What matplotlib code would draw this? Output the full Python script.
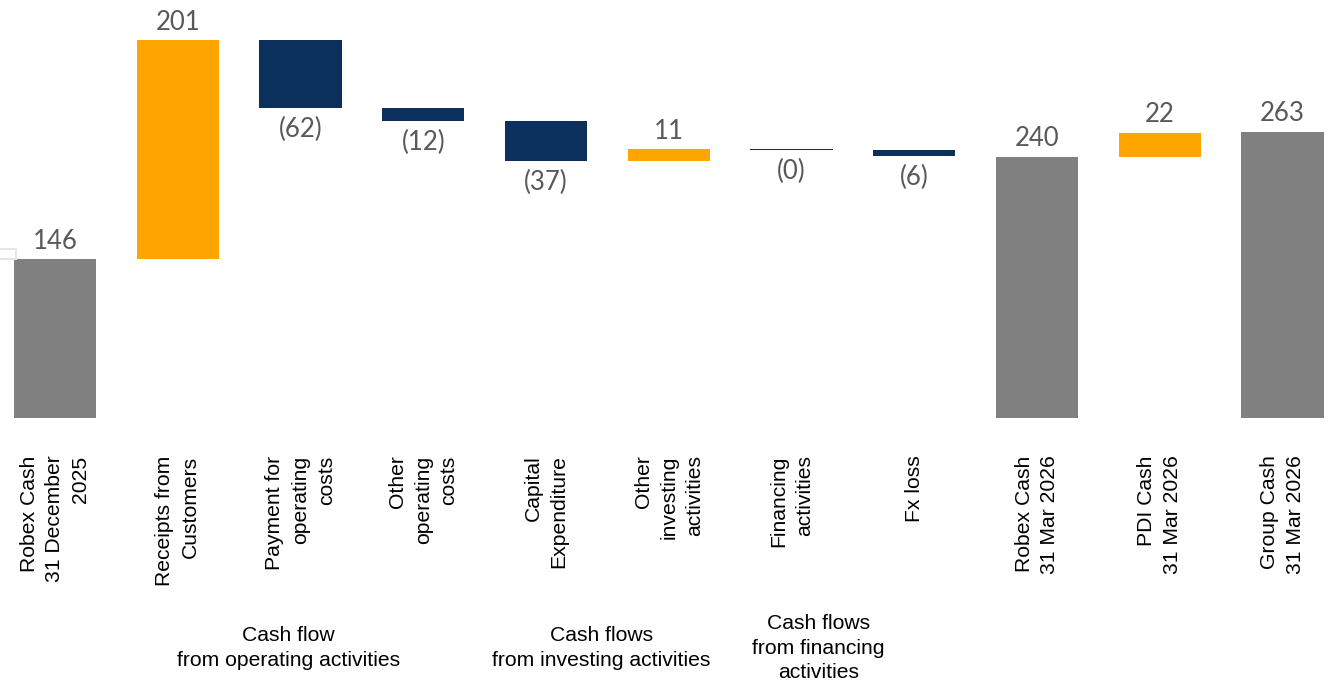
import matplotlib.pyplot as plt
from matplotlib.patches import Rectangle

# data
categories = ["Robex Cash\n31 December\n2025", "Receipts from\nCustomers",
              "Payment for\noperating\ncosts", "Other\noperating\ncosts",
              "Capital\nExpenditure", "Other\ninvesting\nactivities",
              "Financing\nactivities", "Fx loss", "Robex Cash\n31 Mar 2026",
              "PDI Cash\n31 Mar 2026", "Group Cash\n31 Mar 2026"]
values = [146, 201, -62, -12, -37, 11, -0.4, -6, 240, 22, 263]
is_total = [True, False, False, False, False, False, False, False, True, False, True]

groups = ["Cash flow\nfrom operating activities",
          "Cash flows\nfrom investing activities",
          "Cash flows\nfrom financing\nactivities"]
group_x = [1.9, 4.45, 6.22]

ORANGE = "#FFA500"
NAVY = "#0B305B"
GREY = "#808080"
LABEL_GREY = "#595959"

fig = plt.figure(figsize=(13.44, 6.82), dpi=100)
ax = fig.add_axes([0, 1 - 418 / 682, 1, 418 / 682])

bottoms, heights, colors = [], [], []
running = 0
for v, tot in zip(values, is_total):
    if tot:
        bottoms.append(0)
        heights.append(v)
        colors.append(GREY)
        running = v
    else:
        bottoms.append(running if v >= 0 else running + v)
        heights.append(abs(v))
        colors.append(ORANGE if v >= 0 else NAVY)
        running += v

x = range(len(values))
ax.bar(x, heights, bottom=bottoms, width=0.67, color=colors, linewidth=0)

# value labels
for i, v in enumerate(values):
    if v >= 0:
        txt = f"{v:.0f}"
        ax.annotate(txt, (i, bottoms[i] + heights[i]), xytext=(0, 4),
                    textcoords="offset points", ha="center", va="bottom",
                    fontsize=18.5, color=LABEL_GREY, family="Lato")
    else:
        txt = f"({abs(v):.0f})"
        ax.annotate(txt, (i, bottoms[i]), xytext=(0, -6.5),
                    textcoords="offset points", ha="center", va="top",
                    fontsize=18.5, color=LABEL_GREY, family="Lato")

# category labels, rotated
for i, c in enumerate(categories):
    ax.annotate(c, (i, 0), xycoords=("data", "axes fraction"), xytext=(0, -27),
                textcoords="offset points", ha="center", va="top", rotation=90,
                multialignment="right", fontsize=15.2, family="Liberation Sans",
                linespacing=1.45)

# group labels
for gx, g in zip(group_x, groups):
    ax.annotate(g, (gx, 0), xycoords=("data", "axes fraction"),
                xytext=(0, -(648 - 418) * 0.72), textcoords="offset points",
                ha="center", va="center", fontsize=15.2, family="Liberation Sans",
                linespacing=1.35)

# faint leftover box on the left edge
ax.add_patch(Rectangle((-0.46, 146), 0.14, 9, fill=False, edgecolor="#e6e6e6",
                       linewidth=1.5, clip_on=False))

ax.set_xlim(-0.448, 10.5)
ax.set_ylim(0, 384)
ax.axis("off")

fig.savefig("out.png", dpi=100)
